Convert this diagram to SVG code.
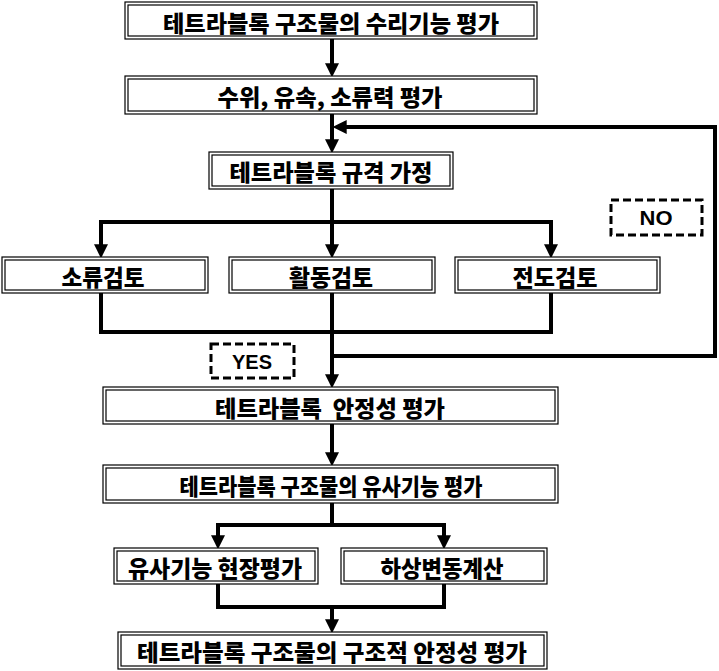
<svg xmlns="http://www.w3.org/2000/svg" width="719" height="671" viewBox="0 0 719 671">
<style>
.o{fill:#fff;stroke:#000;stroke-width:1.2}
.i{fill:none;stroke:#000;stroke-width:1.2}
.t{font-family:"Noto Sans CJK KR","Liberation Sans",sans-serif;font-weight:900;font-size:23px;fill:#000;text-anchor:middle;dominant-baseline:central}
.l{font-family:"Liberation Sans","Noto Sans",sans-serif;font-weight:700;font-size:20px;fill:#000;text-anchor:middle;dominant-baseline:central}
.d{fill:#fff;stroke:#000;stroke-width:3;stroke-dasharray:8 4}
.c{fill:none;stroke:#000;stroke-width:4;stroke-linejoin:miter}
.a{marker-end:url(#ah)}
</style>
<defs>
<marker id="ah" markerUnits="userSpaceOnUse" markerWidth="14" markerHeight="14" viewBox="0 0 12 12" refX="4" refY="6" orient="auto">
<path d="M0,0 L12,6 L0,12 z" fill="#000"/>
</marker>
</defs>
<rect width="719" height="671" fill="#fff"/>
<g id="connectors">
<path class="c a" d="M332,39 V68"/>
<path class="c a" d="M332,114 V144"/>
<path class="c a" d="M332,356 H715 V127 H342"/>
<path class="c a" d="M332,189 V249"/>
<path class="c a" d="M332,222 H101 V249"/>
<path class="c a" d="M332,222 H551 V249"/>
<path class="c" d="M101,293 V332 H551 V293"/>
<path class="c a" d="M332,293 V379"/>
<path class="c a" d="M332,424 V457"/>
<path class="c a" d="M332,503 V525 H218 V540"/>
<path class="c a" d="M332,525 H444 V540"/>
<path class="c" d="M218,584 V607 H444 V584"/>
<path class="c a" d="M332,607 V624"/>
</g>
<g id="n1"><rect class="o" x="125" y="2" width="412" height="37"/><rect class="i" x="128" y="5" width="406" height="31"/><text class="t" x="331" y="22" textLength="336" lengthAdjust="spacingAndGlyphs">테트라블록 구조물의 수리기능 평가</text></g>
<g id="n2"><rect class="o" x="125" y="76" width="412" height="38"/><rect class="i" x="128" y="79" width="406" height="32"/><text class="t" x="330" y="96" textLength="225" lengthAdjust="spacingAndGlyphs">수위, 유속, 소류력 평가</text></g>
<g id="n3"><rect class="o" x="209" y="152" width="244" height="37"/><rect class="i" x="212" y="155" width="238" height="31"/><text class="t" x="331" y="171" textLength="203" lengthAdjust="spacingAndGlyphs">테트라블록 규격 가정</text></g>
<g id="n4"><rect class="o" x="2" y="257" width="206" height="36"/><rect class="i" x="5" y="260" width="200" height="30"/><text class="t" x="103" y="276" textLength="83" lengthAdjust="spacingAndGlyphs">소류검토</text></g>
<g id="n5"><rect class="o" x="229" y="257" width="206" height="36"/><rect class="i" x="232" y="260" width="200" height="30"/><text class="t" x="331" y="276" textLength="84" lengthAdjust="spacingAndGlyphs">활동검토</text></g>
<g id="n6"><rect class="o" x="455" y="257" width="205" height="36"/><rect class="i" x="458" y="260" width="199" height="30"/><text class="t" x="555" y="276" textLength="85" lengthAdjust="spacingAndGlyphs">전도검토</text></g>
<g id="no"><rect class="d" x="611" y="200" width="91" height="35"/><text class="l" x="656" y="218" textLength="33" lengthAdjust="spacingAndGlyphs">NO</text></g>
<g id="yes"><rect class="d" x="211" y="344" width="83" height="34"/><text class="l" x="252" y="362" textLength="40" lengthAdjust="spacingAndGlyphs">YES</text></g>
<g id="n7"><rect class="o" x="103" y="387" width="455" height="37"/><rect class="i" x="106" y="390" width="449" height="31"/><text class="t" x="330" y="407" textLength="230" lengthAdjust="spacingAndGlyphs" xml:space="preserve">테트라블록  안정성 평가</text></g>
<g id="n8"><rect class="o" x="103" y="465" width="455" height="38"/><rect class="i" x="106" y="468" width="449" height="32"/><text class="t" x="331" y="485" textLength="303" lengthAdjust="spacingAndGlyphs">테트라블록 구조물의 유사기능 평가</text></g>
<g id="n9"><rect class="o" x="114" y="548" width="204" height="36"/><rect class="i" x="117" y="551" width="198" height="30"/><text class="t" x="215" y="567" textLength="174" lengthAdjust="spacingAndGlyphs">유사기능 현장평가</text></g>
<g id="n10"><rect class="o" x="341" y="548" width="206" height="36"/><rect class="i" x="344" y="551" width="200" height="30"/><text class="t" x="442" y="567" textLength="123" lengthAdjust="spacingAndGlyphs">하상변동계산</text></g>
<g id="n11"><rect class="o" x="118" y="632" width="429" height="37"/><rect class="i" x="121" y="635" width="423" height="31"/><text class="t" x="332" y="651" textLength="390" lengthAdjust="spacingAndGlyphs">테트라블록 구조물의 구조적 안정성 평가</text></g>
</svg>
